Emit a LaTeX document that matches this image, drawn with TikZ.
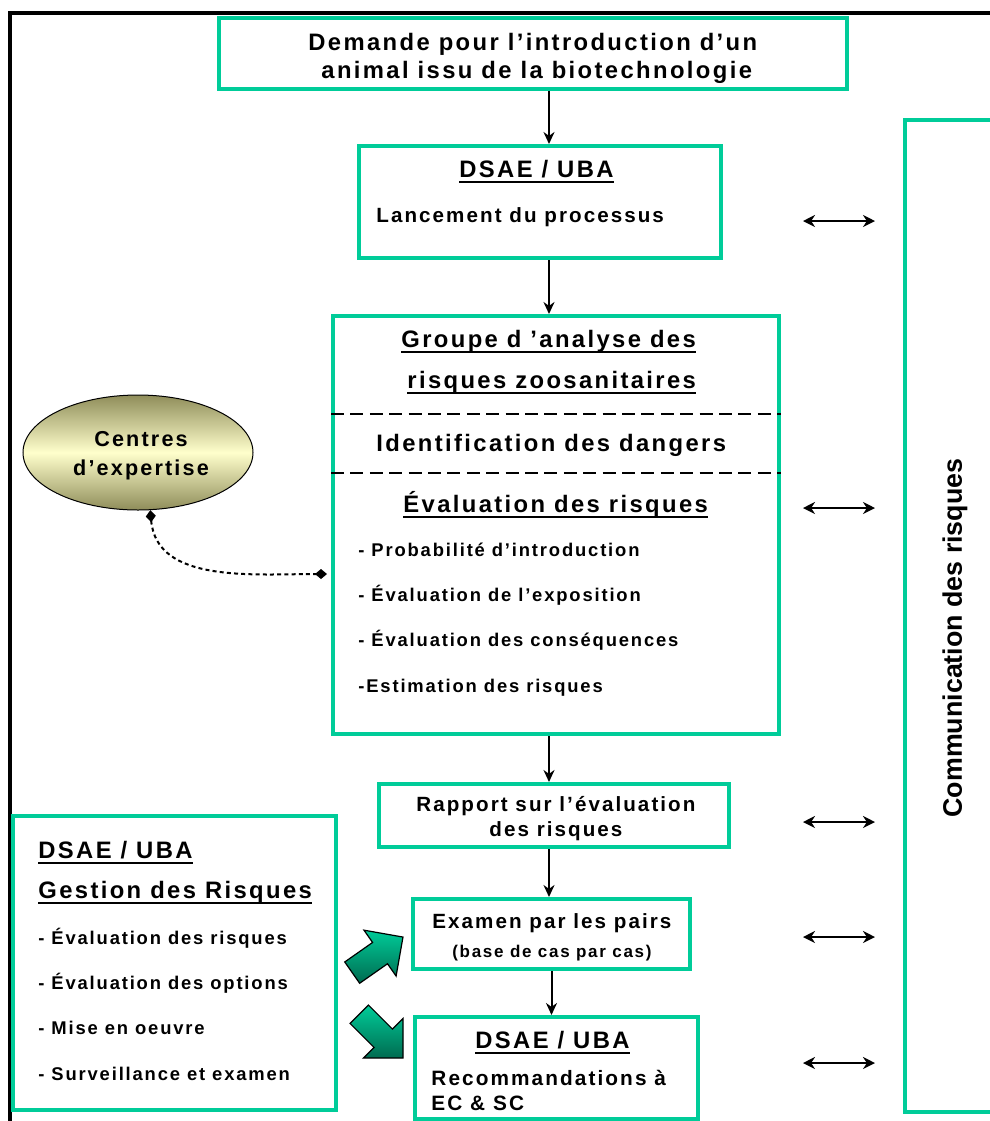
\documentclass[tikz,border=0pt]{standalone}
\usepackage{fontspec}
\setmainfont{Liberation Sans}[LetterSpace=10]
\newfontfamily\plainsans{Liberation Sans}
\usetikzlibrary{arrows.meta, calc, fit, shapes.geometric}
\definecolor{bgreen}{HTML}{00CC99}
\definecolor{bgreendk}{HTML}{006B50}
\definecolor{olivedk}{HTML}{8F8D5A}
\definecolor{olivelt}{HTML}{FFFFCC}
\tikzset{
  gbox/.style    = {draw=bgreen, line width=2pt, inner sep=0pt},
  ttl/.style     = {font=\fontsize{11.9}{14}\selectfont\bfseries, inner sep=0pt, anchor=base west},
  subt/.style    = {font=\fontsize{10.3}{12}\selectfont\bfseries, inner sep=0pt, anchor=base west},
  itm/.style     = {font=\fontsize{9.2}{11}\selectfont\bfseries, inner sep=0pt, anchor=base west},
  down/.style    = {-{Stealth[length=6pt, width=5.5pt]}, line width=1pt},
  both/.style    = {{Stealth[length=6pt, width=6pt]}-{Stealth[length=6pt, width=6pt]}, line width=1.3pt},
  sepline/.style = {line width=1.2pt, dash pattern=on 6.5pt off 3.2pt},
  fatarrow/.style = {draw=black, line width=0.6pt, top color=bgreen, bottom color=bgreendk},
}
\newcommand{\ulbox}[1]{\sbox0{#1}\rlap{\rule[-3pt]{\wd0}{1.2pt}}\usebox0}
\newcommand{\fatarrow}[2]{%
  \begin{scope}[shift={(#1)}, rotate=#2]
    \shade[fatarrow] (0,-13) -- (34,-13) -- (34,-28) -- (62,0) -- (34,28) -- (34,13) -- (0,13) -- cycle;
  \end{scope}}

\begin{document}
\begin{tikzpicture}[x=0.5pt, y=-0.5pt]
  \useasboundingbox (0,0) rectangle (990,1121);
  \clip (0,0) rectangle (990,1121);
  \draw[line width=2pt] (10,1125) -- (10,13) -- (995,13);
  \node[gbox, fit={(219,17.5) (847,88.5)}] (dem) {};
  \node[gbox, fit={(359,146) (721,258)}] (lanc) {};
  \node[gbox, fit={(333,316) (779,734)}] (grp) {};
  \node[gbox, fit={(379,784) (729,847)}] (rap) {};
  \node[gbox, fit={(413,899) (690,969)}] (exa) {};
  \node[gbox, fit={(415,1017) (698,1119)}] (rec) {};
  \node[gbox, fit={(13,816) (336,1110)}] (gest) {};
  \node[gbox, fit={(905,119.5) (1005,1111.5)}] (comm) {};
  \coordinate (spine) at (549,0);
  \draw[down] (dem.south -| spine) -- (lanc.north -| spine);
  \draw[down] (lanc.south -| spine) -- (grp.north -| spine);
  \draw[down] (grp.south -| spine) -- (rap.north -| spine);
  \draw[down] (rap.south -| spine) -- (exa.north -| spine);
  \draw[down] (exa.south) -- (exa.south |- rec.north);
  \draw[sepline] (grp.west |- 0,414) -- (grp.east |- 0,414);
  \draw[sepline] (grp.west |- 0,473) -- (grp.east |- 0,473);
  \foreach \yy [count=\i] in {221,508,822,937,1063} {
    \coordinate (dl\i) at (803,\yy);
    \draw[both, shorten >=14pt] (dl\i) -- (dl\i -| comm.west);
  }
  \node[ttl] (dem1) at (308,50) {Demande pour l’introduction d’un};
  \node[ttl] (dem2) at (321,78) {animal issu de la biotechnologie};
  \node[ttl] (lanc1) at (459,177) {\ulbox{DSAE / UBA}};
  \node[subt] (lanc2) at (376,222) {Lancement du processus};
  \node[ttl] (grp1) at (401,347) {\ulbox{Groupe d ’analyse des}};
  \node[ttl] (grp2) at (407,388) {\ulbox{risques zoosanitaires}};
  \node[ttl] (grp3) at (376,451) {Identification des dangers};
  \node[ttl] (grp4) at (403,512) {\ulbox{Évaluation des risques}};
  \node[itm] (grpa) at (358,556) {- Probabilité d’introduction};
  \node[itm] (grpb) at (358,601) {- Évaluation de l’exposition};
  \node[itm] (grpc) at (358,646) {- Évaluation des conséquences};
  \node[itm] (grpd) at (358,692) {-Estimation des risques};
  \node[subt] (rap1) at (416,811) {Rapport sur l’évaluation};
  \node[subt] (rap2) at (489,836) {des risques};
  \node[subt] (exa1) at (432,928) {Examen par les pairs};
  \node[itm, font=\fontsize{8.5}{10}\selectfont\bfseries] (exa2) at (452,957) {(base de cas par cas)};
  \node[ttl] (rec1) at (475,1048) {\ulbox{DSAE / UBA}};
  \node[subt, font=\fontsize{10.4}{12}\selectfont\bfseries] (rec2) at (431,1085) {Recommandations à};
  \node[subt, font=\fontsize{10.4}{12}\selectfont\bfseries] (rec3) at (431,1110) {EC \& SC};
  \node[ttl] (gest1) at (38,858) {\ulbox{DSAE / UBA}};
  \node[ttl] (gest2) at (38,898) {\ulbox{Gestion des Risques}};
  \node[itm] (gesta) at (38,944) {- Évaluation des risques};
  \node[itm] (gestb) at (38,989) {- Évaluation des options};
  \node[itm] (gestc) at (38,1034) {- Mise en oeuvre};
  \node[itm] (gestd) at (38,1080) {- Surveillance et examen};
  \node[rotate=90, font=\plainsans\fontsize{13.4}{16}\selectfont\bfseries] (commlbl) at (955,638) {Communication des risques};
  \node[ellipse, draw=black, line width=0.5pt, top color=olivedk, bottom color=olivedk, middle color=olivelt,
        minimum width=115pt, minimum height=57.5pt, inner sep=0pt] (centres) at (138,452.5) {};
  \node[align=center, inner sep=0pt, font=\fontsize{10.8}{14.5}\selectfont\bfseries] (centreslbl)
    at ($(centres.center)+(3,3)$) {Centres\\d’expertise};
  \coordinate (gend) at ($(grp.west |- 0,574)+(-4,0)$);
  \draw[line width=1pt, dash pattern=on 2pt off 1.6pt, {Diamond[length=6pt, width=5pt]}-{Diamond[length=6pt, width=5pt]}]
    (centres.-78) to[out=-85, in=180] (gend);
  \fatarrow{352.2,972.6}{35}
  \fatarrow{359.2,1014.2}{-45}
\end{tikzpicture}
\end{document}
